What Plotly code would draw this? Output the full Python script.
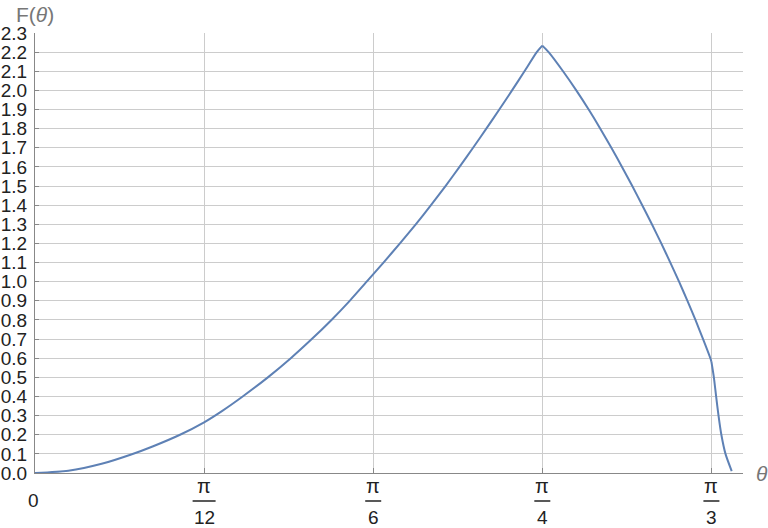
import numpy as np
import plotly.graph_objects as go

# curve values (theta in radians)
theta = [0.0, 0.0516, 0.1032, 0.150, 0.183, 0.2245, 0.2618, 0.290,
         0.3215, 0.3605, 0.3960, 0.4285, 0.4590, 0.4872, 0.5135, 0.5395, 0.5650,
         0.5895, 0.6130, 0.6355, 0.6572, 0.6782, 0.6987, 0.7188, 0.7385, 0.7578,
         0.7768, 0.7854,
         0.7952, 0.8175, 0.8380, 0.8572, 0.8752, 0.8923, 0.9088,
         0.9247, 0.9401, 0.9551, 0.9696, 0.9836, 0.9971, 1.0101, 1.0225, 1.0343,
         1.0456, 1.0472,
         1.0510, 1.0545, 1.0582, 1.0626, 1.0690, 1.0786]
F = [0.0, 0.012, 0.048, 0.098, 0.140, 0.2, 0.265, 0.325,
     0.4, 0.5, 0.6, 0.7, 0.8, 0.9, 1.0, 1.1, 1.2,
     1.3, 1.4, 1.5, 1.6, 1.7, 1.8, 1.9, 2.0, 2.1,
     2.2, 2.234,
     2.2, 2.1, 2.0, 1.9, 1.8, 1.7, 1.6,
     1.5, 1.4, 1.3, 1.2, 1.1, 1.0, 0.9, 0.8, 0.7,
     0.6, 0.582,
     0.5, 0.4, 0.3, 0.2, 0.1, 0.01]

# pieces between the two corners (peak at pi/4, bend at pi/3)
breaks = [0, 27, 45, len(theta) - 1]

# x ticks: multiples of pi
tick_vals = [np.pi / 12, np.pi / 6, np.pi / 4, np.pi / 3]
tick_num = ["π", "π", "π", "π"]
tick_den = ["12", "6", "4", "3"]

y_ticks = [round(0.1 * i, 1) for i in range(24)]

x_max = 1.0961
y_max = 2.3

fnt = "Liberation Sans, Arial, sans-serif"
lbl_color = "#777777"
txt_color = "#222222"

fig = go.Figure()
for a, b in zip(breaks[:-1], breaks[1:]):
    fig.add_trace(go.Scatter(
        x=theta[a:b + 1], y=F[a:b + 1], mode="lines",
        line=dict(color="#5E81B5", width=2, shape="spline", smoothing=0.6),
        showlegend=False, hoverinfo="skip",
    ))

fig.update_layout(
    width=768, height=528,
    margin=dict(l=35, r=25, t=33, b=55),
    plot_bgcolor="white", paper_bgcolor="white",
    font=dict(family=fnt, size=19, color=txt_color),
    xaxis=dict(
        range=[0, x_max], tickvals=tick_vals, showticklabels=False,
        showgrid=True, gridcolor="#cccccc", gridwidth=1,
        showline=True, linecolor="#888888", linewidth=1,
        ticks="inside", ticklen=5, tickcolor="#888888",
        zeroline=False, fixedrange=True, automargin=False,
    ),
    yaxis=dict(
        range=[0, y_max], tickvals=y_ticks, tickformat=".1f",
        showgrid=True, gridcolor="#cccccc", gridwidth=1,
        showline=True, linecolor="#888888", linewidth=1,
        ticks="inside", ticklen=4, tickcolor="#888888",
        zeroline=False, fixedrange=True, automargin=False,
        tickfont=dict(size=19, color=txt_color), ticklabelstandoff=3,
    ),
)

anns = []
shapes = []
# fraction tick labels
for t, n, d in zip(tick_vals, tick_num, tick_den):
    anns.append(dict(x=t, y=0, xref="x", yref="paper", text=n, showarrow=False,
                     xanchor="center", yanchor="middle", yshift=-13,
                     font=dict(size=20, color=txt_color)))
    anns.append(dict(x=t, y=0, xref="x", yref="paper", text=d, showarrow=False,
                     xanchor="center", yanchor="middle", yshift=-44,
                     font=dict(size=19, color=txt_color)))
    half = 8 + 3.5 * (len(d) - 1)
    shapes.append(dict(type="line", xref="x", yref="paper", xsizemode="pixel",
                       ysizemode="pixel", xanchor=t, yanchor=0,
                       x0=-half, x1=half, y0=-28, y1=-28,
                       line=dict(color=txt_color, width=1.5)))

anns.append(dict(x=0, y=0, xref="x", yref="paper", text="0", showarrow=False,
                 xanchor="center", yanchor="middle", yshift=-27, xshift=-2,
                 font=dict(size=19, color=txt_color)))

# axis labels
anns.append(dict(x=0, y=1, xref="paper", yref="paper", text="F(<i>θ</i>)",
                 showarrow=False, xanchor="center", yanchor="middle", yshift=19,
                 font=dict(size=21, color=lbl_color)))
anns.append(dict(x=1, y=0, xref="paper", yref="paper", text="<i>θ</i>",
                 showarrow=False, xanchor="center", yanchor="middle", xshift=19,
                 font=dict(size=21, color=lbl_color)))

fig.update_layout(annotations=anns, shapes=shapes)

# the page body has a default 8px margin; drop it so the figure sits at 0,0
fig.write_html("out.html", config={"displayModeBar": False},
               post_script="document.body.style.margin='0';")
